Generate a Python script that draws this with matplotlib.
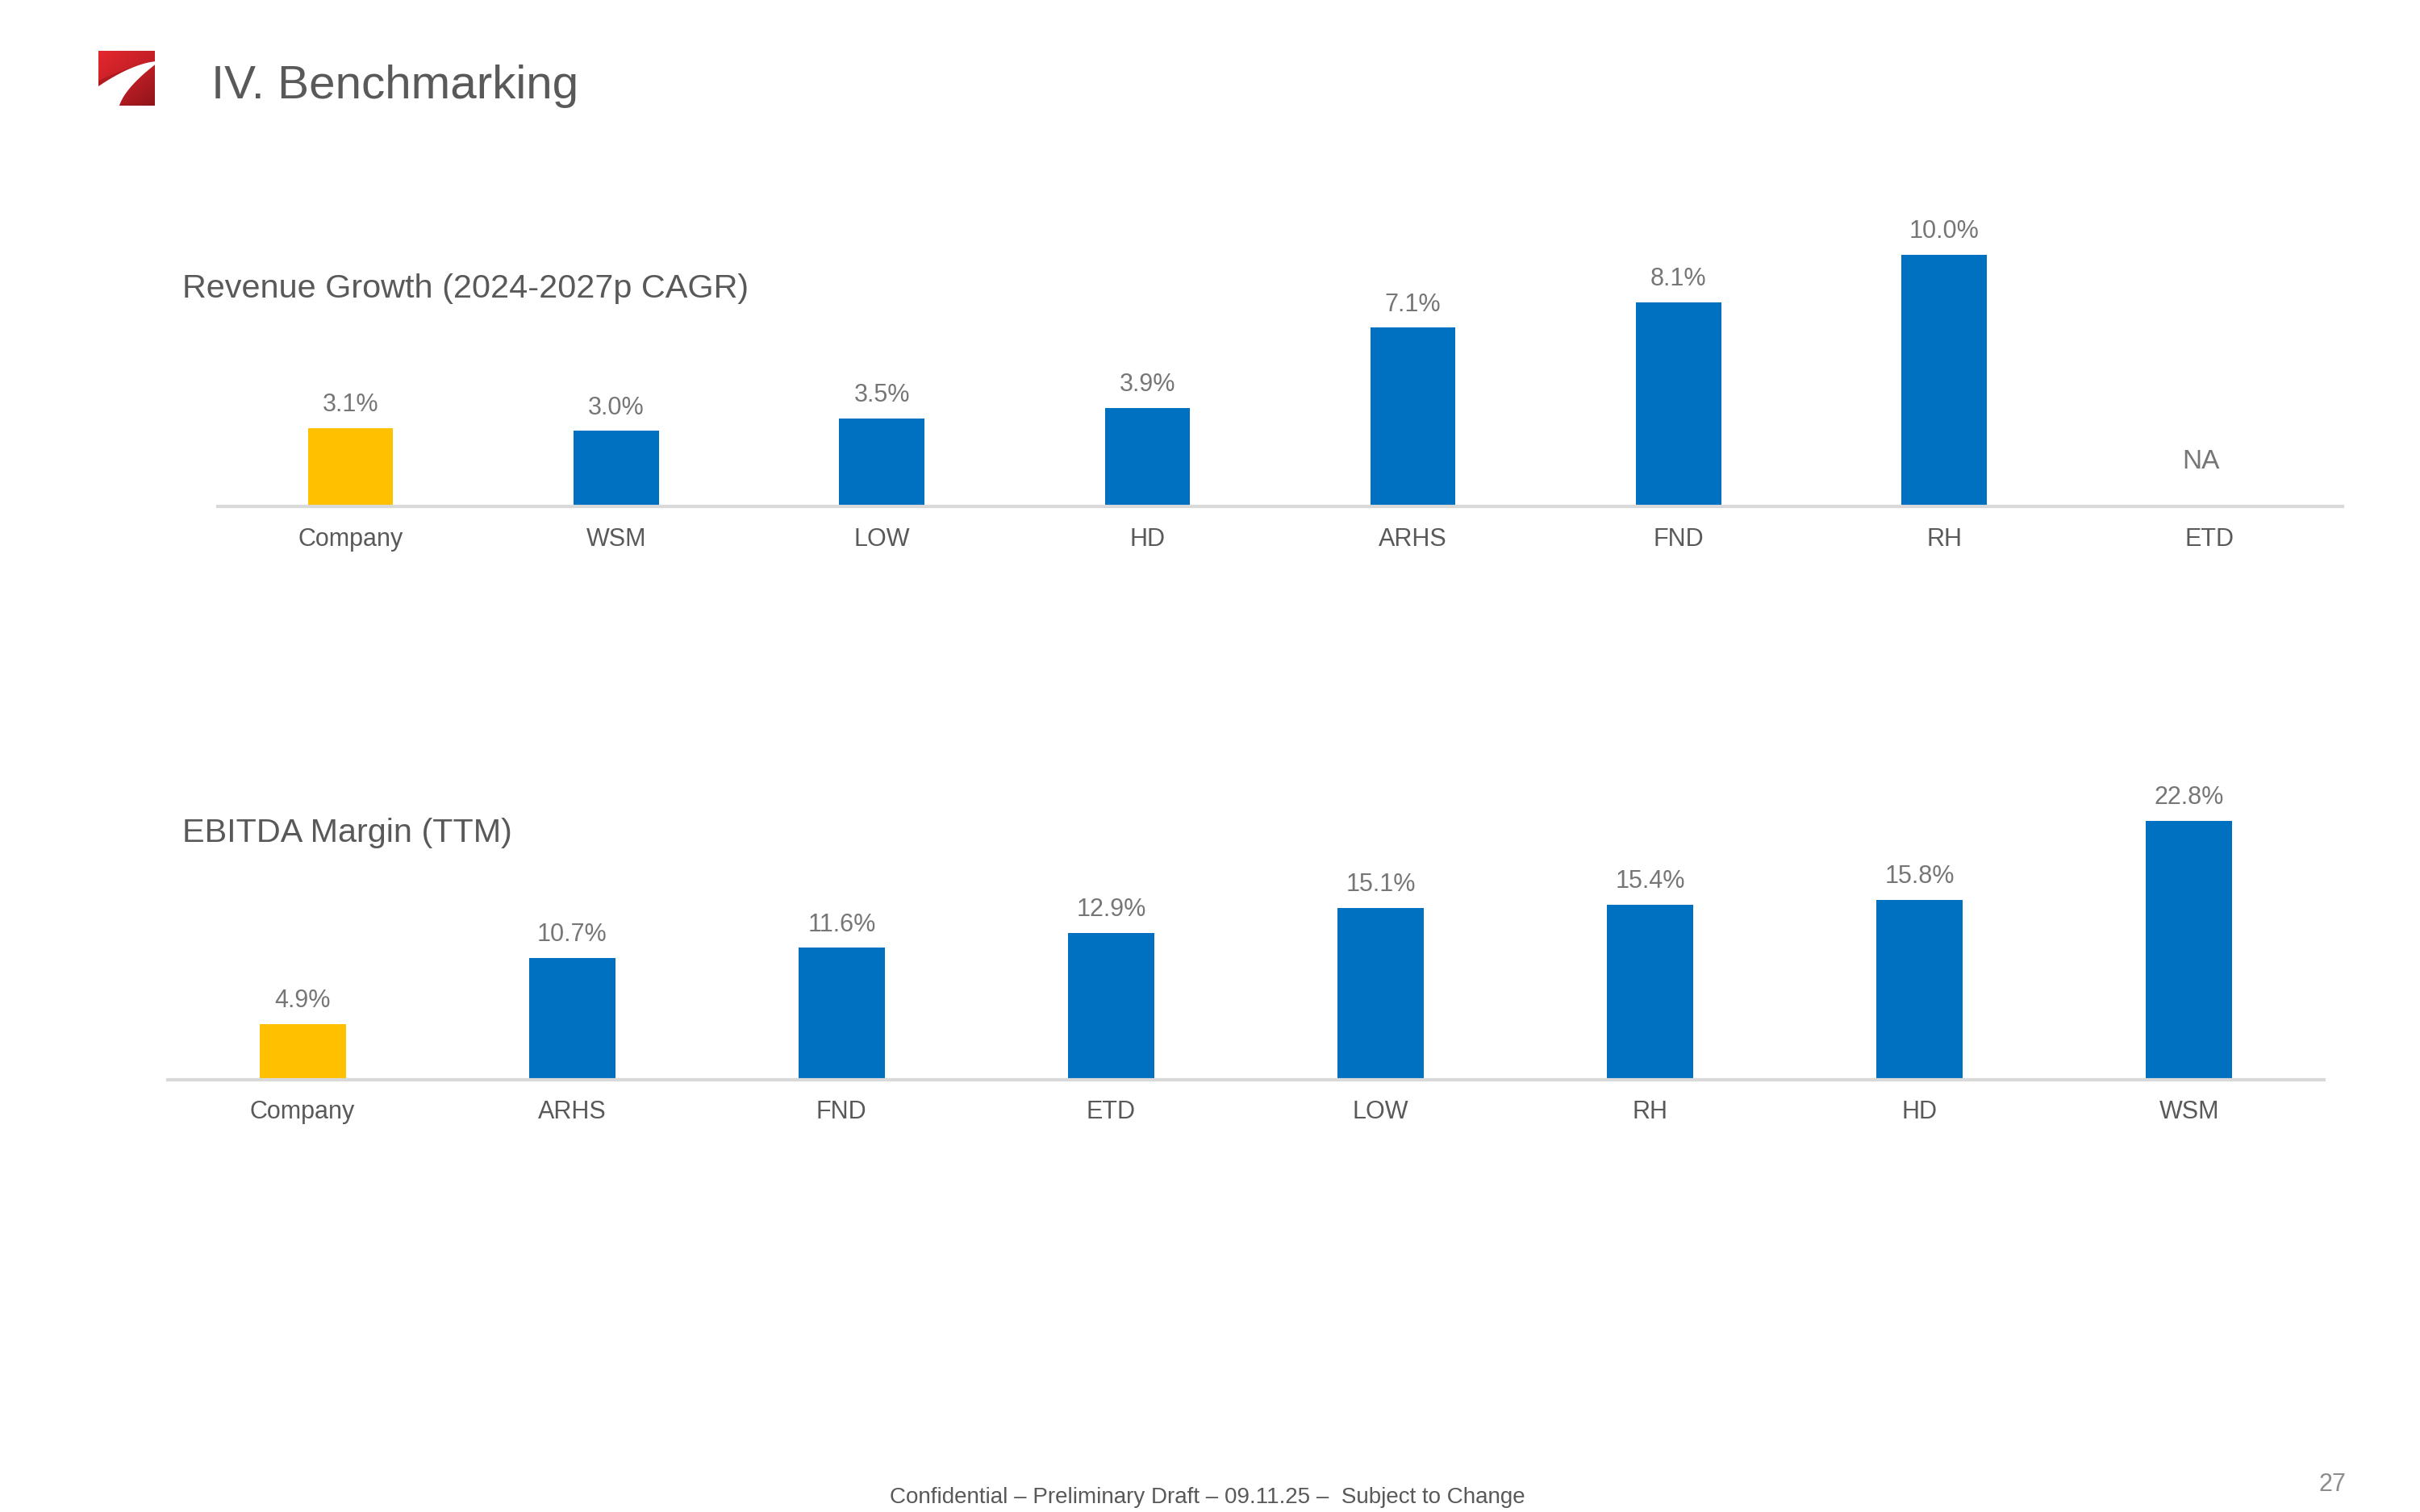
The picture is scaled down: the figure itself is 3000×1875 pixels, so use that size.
import matplotlib
matplotlib.use("Agg")
import matplotlib.pyplot as plt
import numpy as np
from matplotlib.patches import Polygon, Rectangle
from matplotlib.colors import LinearSegmentedColormap

plt.rcParams['font.family'] = ['Liberation Sans', 'DejaVu Sans']

# ---------------- data ----------------
rev_categories = ["Company", "WSM", "LOW", "HD", "ARHS", "FND", "RH", "ETD"]
rev_values = [3.1, 3.0, 3.5, 3.9, 7.1, 8.1, 10.0, None]   # ETD: NA

ebitda_categories = ["Company", "ARHS", "FND", "ETD", "LOW", "RH", "HD", "WSM"]
ebitda_values = [4.9, 10.7, 11.6, 12.9, 15.1, 15.4, 15.8, 22.8]

title_text = "IV. Benchmarking"
rev_title = "Revenue Growth (2024-2027p CAGR)"
ebitda_title = "EBITDA Margin (TTM)"
footer_text = "Confidential \u2013 Preliminary Draft \u2013 09.11.25 \u2013  Subject to Change"
page_number = "27"
na_text = "NA"

# ---------------- style ----------------
W, H = 3000, 1875
DPI = 100
BLUE = "#0070C0"
GOLD = "#FFC000"
AXIS_GRAY = "#D9D9D9"
DARK_TEXT = "#595959"
LABEL_GRAY = "#767676"

fig = plt.figure(figsize=(W / DPI, H / DPI), dpi=DPI)
fig.patch.set_facecolor("white")


def fx(x):
    return x / W


def fy(y):
    return 1 - y / H


def make_axes(left, right, base, px_per_unit, ymax):
    height = ymax * px_per_unit
    ax = fig.add_axes([fx(left), fy(base), (right - left) / W, height / H])
    ax.set_ylim(0, ymax)
    return ax


def draw_bars(ax, cats, vals, pad):
    n = len(cats)
    xs = np.arange(n)
    heights = [v if v is not None else 0 for v in vals]
    colors = [GOLD if c == "Company" else BLUE for c in cats]
    ax.bar(xs, heights, width=0.32, color=colors, zorder=2)
    for x, v in zip(xs, vals):
        if v is None:
            continue
        ax.annotate(f"{v:.1f}%", xy=(x, v), xytext=(0, 10), textcoords="offset points",
                    ha="center", va="bottom", fontsize=22, color=LABEL_GRAY)
    ax.set_xlim(-0.5, n - 0.5)
    ax.set_xticks(xs)
    ax.set_xticklabels(cats, fontsize=22, color=DARK_TEXT)
    ax.tick_params(axis="x", length=0, pad=pad)
    ax.set_yticks([])
    for s in ["top", "left", "right"]:
        ax.spines[s].set_visible(False)
    ax.spines["bottom"].set_color(AXIS_GRAY)
    ax.spines["bottom"].set_linewidth(3)
    ax.patch.set_alpha(0)
    return xs


# Top chart: revenue growth
ax1 = make_axes(270, 2904, 628, 31.2, 11.5)
xs1 = draw_bars(ax1, rev_categories, rev_values, pad=19)
for x, v in zip(xs1, rev_values):
    if v is None:
        ax1.annotate(na_text, xy=(x, 0), xytext=(-8, 34), textcoords="offset points",
                     ha="center", va="baseline", fontsize=24, color=LABEL_GRAY)

# Bottom chart: EBITDA margin
ax2 = make_axes(208, 2881, 1339, 14.1, 25)
draw_bars(ax2, ebitda_categories, ebitda_values, pad=18)

# ---------------- texts ----------------
fig.text(fx(262), fy(122), title_text, fontsize=42, color=DARK_TEXT, ha="left", va="baseline")
fig.text(fx(226), fy(369), rev_title, fontsize=29.8, color=DARK_TEXT, ha="left", va="baseline")
fig.text(fx(226), fy(1044), ebitda_title, fontsize=29.8, color=DARK_TEXT, ha="left", va="baseline")
fig.text(fx(1497), fy(1864), footer_text, fontsize=20, color=DARK_TEXT, ha="center", va="baseline")
fig.text(fx(2891), fy(1849), page_number, fontsize=22, color="#8C8C8C", ha="center", va="baseline")

# ---------------- logo ----------------
axl = fig.add_axes([fx(105), fy(145), 100 / W, 90 / H])
axl.set_xlim(105, 205)
axl.set_ylim(145, 55)
axl.axis("off")
cmap = LinearSegmentedColormap.from_list("logo", ["#E4282E", "#C41F26", "#8E1519"])
gx, gy = np.meshgrid(np.linspace(0, 1, 100), np.linspace(0, 1, 100))
grad = (0.45 * gx + 0.55 * gy)
im = axl.imshow(grad, cmap=cmap, extent=(122, 192, 131, 63), origin="upper", zorder=1)
sq = Rectangle((122, 63), 70, 68, transform=axl.transData, facecolor="none", edgecolor="none")
axl.add_patch(sq)
im.set_clip_path(sq)

tA = np.linspace(0, 1, 30)
A = np.column_stack([115 + 80 * tA, 112 - 36 * (1 - (1 - tA) ** 1.6)])
A2 = np.column_stack([122 + 73 * tA, 100 - 24 * (1 - (1 - tA) ** 1.4)])
shade = Polygon(np.vstack([A2, A[::-1]]), closed=True, facecolor="#9A181D", edgecolor="none",
                alpha=0.55, zorder=2)
axl.add_patch(shade)
shade.set_clip_path(sq)
tB = np.linspace(0, 1, 30)
B = np.column_stack([147 + 48 * tB ** 1.6, 136 - 58 * tB])
white = Polygon(np.vstack([A, B[::-1], [[108, 140], [108, 112]]]), closed=True,
                facecolor="white", edgecolor="none", zorder=3)
axl.add_patch(white)

fig.savefig("out.png", dpi=DPI, facecolor="white")
